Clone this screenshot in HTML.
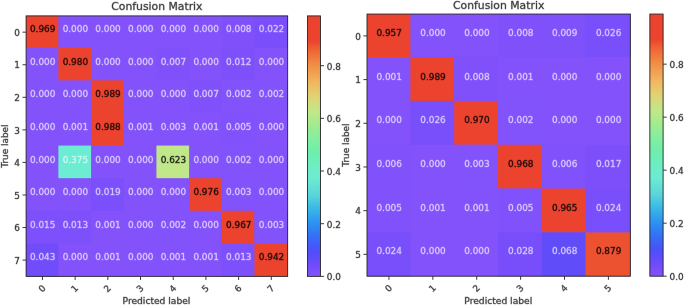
<!DOCTYPE html>
<html><head><meta charset="utf-8"><title>Confusion Matrix</title>
<style>
html,body{margin:0;padding:0;background:#fff;}
body{width:685px;height:306px;overflow:hidden;}
text{stroke-width:0.85px;stroke-opacity:0.36;paint-order:stroke;stroke-linejoin:round;}
text.w{fill:#fff;fill-opacity:0.6;stroke:#fff;stroke-opacity:0.26;}
text.k{fill:#000;fill-opacity:0.8;stroke:#000;stroke-opacity:0.36;}
svg{display:block;font-family:"DejaVu Sans","Liberation Sans",sans-serif;}
</style></head><body>
<svg width="685" height="306" viewBox="0 0 685 306">
<rect width="685" height="306" fill="#ffffff"/>
<rect x="26.10" y="15.90" width="261.56" height="260.47" fill="#8352fb"/>
<rect x="26.10" y="15.90" width="32.29" height="31.82" fill="#ec432e"/>
<rect x="221.79" y="15.90" width="32.68" height="31.82" fill="#8051fb"/>
<rect x="254.47" y="15.90" width="33.19" height="31.82" fill="#7a4efb"/>
<rect x="58.39" y="47.72" width="32.68" height="32.61" fill="#ec432e"/>
<rect x="156.43" y="47.72" width="32.68" height="32.61" fill="#8051fb"/>
<rect x="221.79" y="47.72" width="32.68" height="32.61" fill="#7e50fb"/>
<rect x="91.07" y="80.33" width="32.68" height="33.21" fill="#ec432e"/>
<rect x="189.11" y="80.33" width="32.68" height="32.61" fill="#8051fb"/>
<rect x="221.79" y="80.33" width="33.28" height="32.61" fill="#8252fb"/>
<rect x="254.47" y="80.33" width="33.19" height="32.61" fill="#8252fb"/>
<rect x="91.07" y="112.94" width="32.68" height="32.62" fill="#ec432e"/>
<rect x="156.43" y="112.94" width="32.68" height="32.62" fill="#8252fb"/>
<rect x="221.79" y="112.94" width="32.68" height="32.62" fill="#8151fb"/>
<rect x="58.39" y="145.56" width="32.68" height="32.62" fill="#6cecd2"/>
<rect x="156.43" y="145.56" width="32.68" height="32.62" fill="#c0e88a"/>
<rect x="221.79" y="145.56" width="32.68" height="33.22" fill="#8252fb"/>
<rect x="91.07" y="178.18" width="32.68" height="32.61" fill="#7b4ffb"/>
<rect x="189.11" y="178.18" width="32.68" height="32.61" fill="#ec432e"/>
<rect x="221.79" y="178.18" width="32.68" height="32.61" fill="#8252fb"/>
<rect x="26.10" y="210.79" width="32.29" height="32.62" fill="#7d50fb"/>
<rect x="58.39" y="210.79" width="32.68" height="32.62" fill="#7e50fb"/>
<rect x="156.43" y="210.79" width="32.68" height="32.62" fill="#8252fb"/>
<rect x="221.79" y="210.79" width="32.68" height="32.62" fill="#ec432e"/>
<rect x="254.47" y="210.79" width="33.19" height="32.62" fill="#8252fb"/>
<rect x="26.10" y="243.41" width="32.29" height="32.97" fill="#714cfa"/>
<rect x="221.79" y="243.41" width="32.68" height="32.97" fill="#7e50fb"/>
<rect x="254.47" y="243.41" width="33.19" height="32.97" fill="#ec432e"/>
<rect x="26.10" y="15.90" width="261.56" height="260.47" fill="none" stroke="#262626" stroke-width="0.9"/>
<text class="k" x="42.65" y="32.28" font-size="8.9" text-anchor="middle">0.969</text>
<text class="w" x="75.34" y="32.28" font-size="8.9" text-anchor="middle">0.000</text>
<text class="w" x="108.04" y="32.28" font-size="8.9" text-anchor="middle">0.000</text>
<text class="w" x="140.73" y="32.28" font-size="8.9" text-anchor="middle">0.000</text>
<text class="w" x="173.43" y="32.28" font-size="8.9" text-anchor="middle">0.000</text>
<text class="w" x="206.12" y="32.28" font-size="8.9" text-anchor="middle">0.000</text>
<text class="w" x="238.82" y="32.28" font-size="8.9" text-anchor="middle">0.008</text>
<text class="w" x="271.51" y="32.28" font-size="8.9" text-anchor="middle">0.022</text>
<text class="w" x="42.65" y="64.84" font-size="8.9" text-anchor="middle">0.000</text>
<text class="k" x="75.34" y="64.84" font-size="8.9" text-anchor="middle">0.980</text>
<text class="w" x="108.04" y="64.84" font-size="8.9" text-anchor="middle">0.000</text>
<text class="w" x="140.73" y="64.84" font-size="8.9" text-anchor="middle">0.000</text>
<text class="w" x="173.43" y="64.84" font-size="8.9" text-anchor="middle">0.007</text>
<text class="w" x="206.12" y="64.84" font-size="8.9" text-anchor="middle">0.000</text>
<text class="w" x="238.82" y="64.84" font-size="8.9" text-anchor="middle">0.012</text>
<text class="w" x="271.51" y="64.84" font-size="8.9" text-anchor="middle">0.000</text>
<text class="w" x="42.65" y="97.40" font-size="8.9" text-anchor="middle">0.000</text>
<text class="w" x="75.34" y="97.40" font-size="8.9" text-anchor="middle">0.000</text>
<text class="k" x="108.04" y="97.40" font-size="8.9" text-anchor="middle">0.989</text>
<text class="w" x="140.73" y="97.40" font-size="8.9" text-anchor="middle">0.000</text>
<text class="w" x="173.43" y="97.40" font-size="8.9" text-anchor="middle">0.000</text>
<text class="w" x="206.12" y="97.40" font-size="8.9" text-anchor="middle">0.007</text>
<text class="w" x="238.82" y="97.40" font-size="8.9" text-anchor="middle">0.002</text>
<text class="w" x="271.51" y="97.40" font-size="8.9" text-anchor="middle">0.002</text>
<text class="w" x="42.65" y="129.96" font-size="8.9" text-anchor="middle">0.000</text>
<text class="w" x="75.34" y="129.96" font-size="8.9" text-anchor="middle">0.001</text>
<text class="k" x="108.04" y="129.96" font-size="8.9" text-anchor="middle">0.988</text>
<text class="w" x="140.73" y="129.96" font-size="8.9" text-anchor="middle">0.001</text>
<text class="w" x="173.43" y="129.96" font-size="8.9" text-anchor="middle">0.003</text>
<text class="w" x="206.12" y="129.96" font-size="8.9" text-anchor="middle">0.001</text>
<text class="w" x="238.82" y="129.96" font-size="8.9" text-anchor="middle">0.005</text>
<text class="w" x="271.51" y="129.96" font-size="8.9" text-anchor="middle">0.000</text>
<text class="w" x="42.65" y="162.51" font-size="8.9" text-anchor="middle">0.000</text>
<text class="w" x="75.34" y="162.51" font-size="8.9" text-anchor="middle">0.375</text>
<text class="w" x="108.04" y="162.51" font-size="8.9" text-anchor="middle">0.000</text>
<text class="w" x="140.73" y="162.51" font-size="8.9" text-anchor="middle">0.000</text>
<text class="k" x="173.43" y="162.51" font-size="8.9" text-anchor="middle">0.623</text>
<text class="w" x="206.12" y="162.51" font-size="8.9" text-anchor="middle">0.000</text>
<text class="w" x="238.82" y="162.51" font-size="8.9" text-anchor="middle">0.002</text>
<text class="w" x="271.51" y="162.51" font-size="8.9" text-anchor="middle">0.000</text>
<text class="w" x="42.65" y="195.07" font-size="8.9" text-anchor="middle">0.000</text>
<text class="w" x="75.34" y="195.07" font-size="8.9" text-anchor="middle">0.000</text>
<text class="w" x="108.04" y="195.07" font-size="8.9" text-anchor="middle">0.019</text>
<text class="w" x="140.73" y="195.07" font-size="8.9" text-anchor="middle">0.000</text>
<text class="w" x="173.43" y="195.07" font-size="8.9" text-anchor="middle">0.000</text>
<text class="k" x="206.12" y="195.07" font-size="8.9" text-anchor="middle">0.976</text>
<text class="w" x="238.82" y="195.07" font-size="8.9" text-anchor="middle">0.003</text>
<text class="w" x="271.51" y="195.07" font-size="8.9" text-anchor="middle">0.000</text>
<text class="w" x="42.65" y="227.63" font-size="8.9" text-anchor="middle">0.015</text>
<text class="w" x="75.34" y="227.63" font-size="8.9" text-anchor="middle">0.013</text>
<text class="w" x="108.04" y="227.63" font-size="8.9" text-anchor="middle">0.001</text>
<text class="w" x="140.73" y="227.63" font-size="8.9" text-anchor="middle">0.000</text>
<text class="w" x="173.43" y="227.63" font-size="8.9" text-anchor="middle">0.002</text>
<text class="w" x="206.12" y="227.63" font-size="8.9" text-anchor="middle">0.000</text>
<text class="k" x="238.82" y="227.63" font-size="8.9" text-anchor="middle">0.967</text>
<text class="w" x="271.51" y="227.63" font-size="8.9" text-anchor="middle">0.003</text>
<text class="w" x="42.65" y="260.19" font-size="8.9" text-anchor="middle">0.043</text>
<text class="w" x="75.34" y="260.19" font-size="8.9" text-anchor="middle">0.000</text>
<text class="w" x="108.04" y="260.19" font-size="8.9" text-anchor="middle">0.001</text>
<text class="w" x="140.73" y="260.19" font-size="8.9" text-anchor="middle">0.000</text>
<text class="w" x="173.43" y="260.19" font-size="8.9" text-anchor="middle">0.001</text>
<text class="w" x="206.12" y="260.19" font-size="8.9" text-anchor="middle">0.001</text>
<text class="w" x="238.82" y="260.19" font-size="8.9" text-anchor="middle">0.013</text>
<text class="k" x="271.51" y="260.19" font-size="8.9" text-anchor="middle">0.942</text>
<line x1="22.50" x2="26.10" y1="32.18" y2="32.18" stroke="#262626" stroke-width="0.9"/>
<text x="19.90" y="35.88" font-size="8.9" text-anchor="end" fill="#383838" stroke="#383838">0</text>
<line x1="42.45" x2="42.45" y1="276.37" y2="279.97" stroke="#262626" stroke-width="0.9"/>
<text transform="translate(41.85,288.37) rotate(-45)" x="0" y="3.25" font-size="8.9" text-anchor="middle" fill="#383838" stroke="#383838">0</text>
<line x1="22.50" x2="26.10" y1="64.74" y2="64.74" stroke="#262626" stroke-width="0.9"/>
<text x="19.90" y="68.44" font-size="8.9" text-anchor="end" fill="#383838" stroke="#383838">1</text>
<line x1="75.14" x2="75.14" y1="276.37" y2="279.97" stroke="#262626" stroke-width="0.9"/>
<text transform="translate(74.54,288.37) rotate(-45)" x="0" y="3.25" font-size="8.9" text-anchor="middle" fill="#383838" stroke="#383838">1</text>
<line x1="22.50" x2="26.10" y1="97.30" y2="97.30" stroke="#262626" stroke-width="0.9"/>
<text x="19.90" y="101.00" font-size="8.9" text-anchor="end" fill="#383838" stroke="#383838">2</text>
<line x1="107.84" x2="107.84" y1="276.37" y2="279.97" stroke="#262626" stroke-width="0.9"/>
<text transform="translate(107.24,288.37) rotate(-45)" x="0" y="3.25" font-size="8.9" text-anchor="middle" fill="#383838" stroke="#383838">2</text>
<line x1="22.50" x2="26.10" y1="129.86" y2="129.86" stroke="#262626" stroke-width="0.9"/>
<text x="19.90" y="133.55" font-size="8.9" text-anchor="end" fill="#383838" stroke="#383838">3</text>
<line x1="140.53" x2="140.53" y1="276.37" y2="279.97" stroke="#262626" stroke-width="0.9"/>
<text transform="translate(139.93,288.37) rotate(-45)" x="0" y="3.25" font-size="8.9" text-anchor="middle" fill="#383838" stroke="#383838">3</text>
<line x1="22.50" x2="26.10" y1="162.41" y2="162.41" stroke="#262626" stroke-width="0.9"/>
<text x="19.90" y="166.11" font-size="8.9" text-anchor="end" fill="#383838" stroke="#383838">4</text>
<line x1="173.23" x2="173.23" y1="276.37" y2="279.97" stroke="#262626" stroke-width="0.9"/>
<text transform="translate(172.63,288.37) rotate(-45)" x="0" y="3.25" font-size="8.9" text-anchor="middle" fill="#383838" stroke="#383838">4</text>
<line x1="22.50" x2="26.10" y1="194.97" y2="194.97" stroke="#262626" stroke-width="0.9"/>
<text x="19.90" y="198.67" font-size="8.9" text-anchor="end" fill="#383838" stroke="#383838">5</text>
<line x1="205.92" x2="205.92" y1="276.37" y2="279.97" stroke="#262626" stroke-width="0.9"/>
<text transform="translate(205.32,288.37) rotate(-45)" x="0" y="3.25" font-size="8.9" text-anchor="middle" fill="#383838" stroke="#383838">5</text>
<line x1="22.50" x2="26.10" y1="227.53" y2="227.53" stroke="#262626" stroke-width="0.9"/>
<text x="19.90" y="231.23" font-size="8.9" text-anchor="end" fill="#383838" stroke="#383838">6</text>
<line x1="238.62" x2="238.62" y1="276.37" y2="279.97" stroke="#262626" stroke-width="0.9"/>
<text transform="translate(238.02,288.37) rotate(-45)" x="0" y="3.25" font-size="8.9" text-anchor="middle" fill="#383838" stroke="#383838">6</text>
<line x1="22.50" x2="26.10" y1="260.09" y2="260.09" stroke="#262626" stroke-width="0.9"/>
<text x="19.90" y="263.79" font-size="8.9" text-anchor="end" fill="#383838" stroke="#383838">7</text>
<line x1="271.31" x2="271.31" y1="276.37" y2="279.97" stroke="#262626" stroke-width="0.9"/>
<text transform="translate(270.71,288.37) rotate(-45)" x="0" y="3.25" font-size="8.9" text-anchor="middle" fill="#383838" stroke="#383838">7</text>
<text x="156.88" y="10.30" font-size="10.82" text-anchor="middle" fill="#383838" stroke="#383838">Confusion Matrix</text>
<text x="156.48" y="304.47" font-size="9.15" text-anchor="middle" fill="#383838" stroke="#383838">Predicted label</text>
<text transform="translate(7.80,146.13) rotate(-90)" font-size="8.9" text-anchor="middle" fill="#383838" stroke="#383838">True label</text>
<defs><linearGradient id="g1" x1="0" y1="0" x2="0" y2="1"><stop offset="0.0000" stop-color="#ec432e"/><stop offset="0.0100" stop-color="#ec432e"/><stop offset="0.0200" stop-color="#ec432e"/><stop offset="0.0300" stop-color="#ec432e"/><stop offset="0.0400" stop-color="#ec432e"/><stop offset="0.0500" stop-color="#ec432e"/><stop offset="0.0600" stop-color="#ec432e"/><stop offset="0.0700" stop-color="#ec432e"/><stop offset="0.0800" stop-color="#ec432e"/><stop offset="0.0900" stop-color="#ec432e"/><stop offset="0.1000" stop-color="#ec462e"/><stop offset="0.1100" stop-color="#ec5130"/><stop offset="0.1200" stop-color="#ee5b32"/><stop offset="0.1300" stop-color="#ef6235"/><stop offset="0.1400" stop-color="#f06a38"/><stop offset="0.1500" stop-color="#f0713b"/><stop offset="0.1600" stop-color="#f0793e"/><stop offset="0.1700" stop-color="#f08141"/><stop offset="0.1800" stop-color="#f08844"/><stop offset="0.1900" stop-color="#f08f47"/><stop offset="0.2000" stop-color="#f0954b"/><stop offset="0.2100" stop-color="#f09b4e"/><stop offset="0.2200" stop-color="#f1a152"/><stop offset="0.2300" stop-color="#f1a656"/><stop offset="0.2400" stop-color="#f1ac5a"/><stop offset="0.2500" stop-color="#f2b25e"/><stop offset="0.2600" stop-color="#f0b861"/><stop offset="0.2700" stop-color="#edbd65"/><stop offset="0.2800" stop-color="#eac369"/><stop offset="0.2900" stop-color="#e6c96d"/><stop offset="0.3000" stop-color="#e3ce71"/><stop offset="0.3100" stop-color="#dfd374"/><stop offset="0.3200" stop-color="#dad778"/><stop offset="0.3300" stop-color="#d5da7c"/><stop offset="0.3400" stop-color="#d0de7f"/><stop offset="0.3500" stop-color="#cae183"/><stop offset="0.3600" stop-color="#c5e586"/><stop offset="0.3700" stop-color="#c0e88a"/><stop offset="0.3800" stop-color="#bae98a"/><stop offset="0.3900" stop-color="#b4e98b"/><stop offset="0.4000" stop-color="#aeea8b"/><stop offset="0.4100" stop-color="#a8eb8c"/><stop offset="0.4200" stop-color="#a2eb8e"/><stop offset="0.4300" stop-color="#9cec92"/><stop offset="0.4400" stop-color="#96ec96"/><stop offset="0.4500" stop-color="#91ed99"/><stop offset="0.4600" stop-color="#8bee9d"/><stop offset="0.4700" stop-color="#86eea1"/><stop offset="0.4800" stop-color="#81eea3"/><stop offset="0.4900" stop-color="#7deea5"/><stop offset="0.5000" stop-color="#78eea7"/><stop offset="0.5100" stop-color="#74eea9"/><stop offset="0.5200" stop-color="#6feeab"/><stop offset="0.5300" stop-color="#6eeeaf"/><stop offset="0.5400" stop-color="#6eeeb3"/><stop offset="0.5500" stop-color="#6eeeb8"/><stop offset="0.5600" stop-color="#6eeebc"/><stop offset="0.5700" stop-color="#6eeec0"/><stop offset="0.5800" stop-color="#6eeec4"/><stop offset="0.5900" stop-color="#6dedc8"/><stop offset="0.6000" stop-color="#6dedcb"/><stop offset="0.6100" stop-color="#6cecce"/><stop offset="0.6200" stop-color="#6cecd2"/><stop offset="0.6300" stop-color="#6ae9d3"/><stop offset="0.6400" stop-color="#67e6d4"/><stop offset="0.6500" stop-color="#65e2d5"/><stop offset="0.6600" stop-color="#62dfd6"/><stop offset="0.6700" stop-color="#60dcd7"/><stop offset="0.6800" stop-color="#5dd8d9"/><stop offset="0.6900" stop-color="#59d4db"/><stop offset="0.7000" stop-color="#53cedd"/><stop offset="0.7100" stop-color="#4cc8e0"/><stop offset="0.7200" stop-color="#46c3e3"/><stop offset="0.7300" stop-color="#40bde6"/><stop offset="0.7400" stop-color="#3bb7e8"/><stop offset="0.7500" stop-color="#38b0ea"/><stop offset="0.7600" stop-color="#35aaeb"/><stop offset="0.7700" stop-color="#33a3ed"/><stop offset="0.7800" stop-color="#309cef"/><stop offset="0.7900" stop-color="#2d96f0"/><stop offset="0.8000" stop-color="#2e8ff1"/><stop offset="0.8100" stop-color="#2f88f2"/><stop offset="0.8200" stop-color="#3081f3"/><stop offset="0.8300" stop-color="#317bf4"/><stop offset="0.8400" stop-color="#3274f5"/><stop offset="0.8500" stop-color="#366ef6"/><stop offset="0.8600" stop-color="#3a67f7"/><stop offset="0.8700" stop-color="#3f61f8"/><stop offset="0.8800" stop-color="#435bf8"/><stop offset="0.8900" stop-color="#4855f9"/><stop offset="0.9000" stop-color="#4c50fa"/><stop offset="0.9100" stop-color="#534efa"/><stop offset="0.9200" stop-color="#594dfa"/><stop offset="0.9300" stop-color="#604cfa"/><stop offset="0.9400" stop-color="#674bfa"/><stop offset="0.9500" stop-color="#6e4bfa"/><stop offset="0.9600" stop-color="#724cfa"/><stop offset="0.9700" stop-color="#774dfb"/><stop offset="0.9800" stop-color="#7b4ffb"/><stop offset="0.9900" stop-color="#7f50fb"/><stop offset="1.0000" stop-color="#8352fb"/></linearGradient></defs>
<rect x="307.45" y="15.90" width="12.99" height="260.47" fill="url(#g1)" stroke="#262626" stroke-width="0.9"/>
<line x1="320.44" x2="324.04" y1="276.37" y2="276.37" stroke="#262626" stroke-width="0.9"/>
<text x="326.84" y="280.22" font-size="8.9" fill="#383838" stroke="#383838">0.0</text>
<line x1="320.44" x2="324.04" y1="223.70" y2="223.70" stroke="#262626" stroke-width="0.9"/>
<text x="326.84" y="227.55" font-size="8.9" fill="#383838" stroke="#383838">0.2</text>
<line x1="320.44" x2="324.04" y1="171.02" y2="171.02" stroke="#262626" stroke-width="0.9"/>
<text x="326.84" y="174.87" font-size="8.9" fill="#383838" stroke="#383838">0.4</text>
<line x1="320.44" x2="324.04" y1="118.35" y2="118.35" stroke="#262626" stroke-width="0.9"/>
<text x="326.84" y="122.20" font-size="8.9" fill="#383838" stroke="#383838">0.6</text>
<line x1="320.44" x2="324.04" y1="65.68" y2="65.68" stroke="#262626" stroke-width="0.9"/>
<text x="326.84" y="69.52" font-size="8.9" fill="#383838" stroke="#383838">0.8</text>
<rect x="367.00" y="14.05" width="263.35" height="262.15" fill="#8352fb"/>
<rect x="367.00" y="14.05" width="43.40" height="43.05" fill="#ec432e"/>
<rect x="498.00" y="14.05" width="43.80" height="43.05" fill="#8051fb"/>
<rect x="541.80" y="14.05" width="43.80" height="43.05" fill="#7f51fb"/>
<rect x="585.60" y="14.05" width="44.75" height="43.05" fill="#794efb"/>
<rect x="410.40" y="57.10" width="43.80" height="43.83" fill="#ec432e"/>
<rect x="454.20" y="57.10" width="43.80" height="43.83" fill="#8051fb"/>
<rect x="410.40" y="100.93" width="43.80" height="43.83" fill="#794efb"/>
<rect x="454.20" y="100.93" width="43.80" height="43.83" fill="#ec432e"/>
<rect x="498.00" y="100.93" width="43.80" height="43.83" fill="#8252fb"/>
<rect x="367.00" y="144.76" width="43.40" height="44.43" fill="#8151fb"/>
<rect x="454.20" y="144.76" width="43.80" height="43.83" fill="#8252fb"/>
<rect x="498.00" y="144.76" width="43.80" height="43.83" fill="#ec432e"/>
<rect x="541.80" y="144.76" width="43.80" height="43.83" fill="#8151fb"/>
<rect x="585.60" y="144.76" width="44.75" height="43.83" fill="#7c4ffb"/>
<rect x="367.00" y="188.59" width="43.40" height="43.83" fill="#8151fb"/>
<rect x="498.00" y="188.59" width="43.80" height="43.83" fill="#8151fb"/>
<rect x="541.80" y="188.59" width="43.80" height="43.83" fill="#ec432e"/>
<rect x="585.60" y="188.59" width="44.75" height="43.83" fill="#794efb"/>
<rect x="367.00" y="232.42" width="43.40" height="43.78" fill="#794efb"/>
<rect x="498.00" y="232.42" width="43.80" height="43.78" fill="#784efb"/>
<rect x="541.80" y="232.42" width="43.80" height="43.78" fill="#614cfa"/>
<rect x="585.60" y="232.42" width="44.75" height="43.78" fill="#ec5230"/>
<rect x="367.00" y="14.05" width="263.35" height="262.15" fill="none" stroke="#262626" stroke-width="0.9"/>
<text class="k" x="389.15" y="35.95" font-size="8.9" text-anchor="middle">0.957</text>
<text class="w" x="433.04" y="35.95" font-size="8.9" text-anchor="middle">0.000</text>
<text class="w" x="476.93" y="35.95" font-size="8.9" text-anchor="middle">0.000</text>
<text class="w" x="520.82" y="35.95" font-size="8.9" text-anchor="middle">0.008</text>
<text class="w" x="564.71" y="35.95" font-size="8.9" text-anchor="middle">0.009</text>
<text class="w" x="608.60" y="35.95" font-size="8.9" text-anchor="middle">0.026</text>
<text class="w" x="389.15" y="79.64" font-size="8.9" text-anchor="middle">0.001</text>
<text class="k" x="433.04" y="79.64" font-size="8.9" text-anchor="middle">0.989</text>
<text class="w" x="476.93" y="79.64" font-size="8.9" text-anchor="middle">0.008</text>
<text class="w" x="520.82" y="79.64" font-size="8.9" text-anchor="middle">0.001</text>
<text class="w" x="564.71" y="79.64" font-size="8.9" text-anchor="middle">0.000</text>
<text class="w" x="608.60" y="79.64" font-size="8.9" text-anchor="middle">0.000</text>
<text class="w" x="389.15" y="123.33" font-size="8.9" text-anchor="middle">0.000</text>
<text class="w" x="433.04" y="123.33" font-size="8.9" text-anchor="middle">0.026</text>
<text class="k" x="476.93" y="123.33" font-size="8.9" text-anchor="middle">0.970</text>
<text class="w" x="520.82" y="123.33" font-size="8.9" text-anchor="middle">0.002</text>
<text class="w" x="564.71" y="123.33" font-size="8.9" text-anchor="middle">0.000</text>
<text class="w" x="608.60" y="123.33" font-size="8.9" text-anchor="middle">0.000</text>
<text class="w" x="389.15" y="167.02" font-size="8.9" text-anchor="middle">0.006</text>
<text class="w" x="433.04" y="167.02" font-size="8.9" text-anchor="middle">0.000</text>
<text class="w" x="476.93" y="167.02" font-size="8.9" text-anchor="middle">0.003</text>
<text class="k" x="520.82" y="167.02" font-size="8.9" text-anchor="middle">0.968</text>
<text class="w" x="564.71" y="167.02" font-size="8.9" text-anchor="middle">0.006</text>
<text class="w" x="608.60" y="167.02" font-size="8.9" text-anchor="middle">0.017</text>
<text class="w" x="389.15" y="210.71" font-size="8.9" text-anchor="middle">0.005</text>
<text class="w" x="433.04" y="210.71" font-size="8.9" text-anchor="middle">0.001</text>
<text class="w" x="476.93" y="210.71" font-size="8.9" text-anchor="middle">0.001</text>
<text class="w" x="520.82" y="210.71" font-size="8.9" text-anchor="middle">0.005</text>
<text class="k" x="564.71" y="210.71" font-size="8.9" text-anchor="middle">0.965</text>
<text class="w" x="608.60" y="210.71" font-size="8.9" text-anchor="middle">0.024</text>
<text class="w" x="389.15" y="254.40" font-size="8.9" text-anchor="middle">0.024</text>
<text class="w" x="433.04" y="254.40" font-size="8.9" text-anchor="middle">0.000</text>
<text class="w" x="476.93" y="254.40" font-size="8.9" text-anchor="middle">0.000</text>
<text class="w" x="520.82" y="254.40" font-size="8.9" text-anchor="middle">0.028</text>
<text class="w" x="564.71" y="254.40" font-size="8.9" text-anchor="middle">0.068</text>
<text class="k" x="608.60" y="254.40" font-size="8.9" text-anchor="middle">0.879</text>
<line x1="363.40" x2="367.00" y1="35.90" y2="35.90" stroke="#262626" stroke-width="0.9"/>
<text x="360.80" y="39.59" font-size="8.9" text-anchor="end" fill="#383838" stroke="#383838">0</text>
<line x1="388.95" x2="388.95" y1="276.20" y2="279.80" stroke="#262626" stroke-width="0.9"/>
<text transform="translate(388.35,288.20) rotate(-45)" x="0" y="3.25" font-size="8.9" text-anchor="middle" fill="#383838" stroke="#383838">0</text>
<line x1="363.40" x2="367.00" y1="79.59" y2="79.59" stroke="#262626" stroke-width="0.9"/>
<text x="360.80" y="83.29" font-size="8.9" text-anchor="end" fill="#383838" stroke="#383838">1</text>
<line x1="432.84" x2="432.84" y1="276.20" y2="279.80" stroke="#262626" stroke-width="0.9"/>
<text transform="translate(432.24,288.20) rotate(-45)" x="0" y="3.25" font-size="8.9" text-anchor="middle" fill="#383838" stroke="#383838">1</text>
<line x1="363.40" x2="367.00" y1="123.28" y2="123.28" stroke="#262626" stroke-width="0.9"/>
<text x="360.80" y="126.98" font-size="8.9" text-anchor="end" fill="#383838" stroke="#383838">2</text>
<line x1="476.73" x2="476.73" y1="276.20" y2="279.80" stroke="#262626" stroke-width="0.9"/>
<text transform="translate(476.13,288.20) rotate(-45)" x="0" y="3.25" font-size="8.9" text-anchor="middle" fill="#383838" stroke="#383838">2</text>
<line x1="363.40" x2="367.00" y1="166.97" y2="166.97" stroke="#262626" stroke-width="0.9"/>
<text x="360.80" y="170.67" font-size="8.9" text-anchor="end" fill="#383838" stroke="#383838">3</text>
<line x1="520.62" x2="520.62" y1="276.20" y2="279.80" stroke="#262626" stroke-width="0.9"/>
<text transform="translate(520.02,288.20) rotate(-45)" x="0" y="3.25" font-size="8.9" text-anchor="middle" fill="#383838" stroke="#383838">3</text>
<line x1="363.40" x2="367.00" y1="210.66" y2="210.66" stroke="#262626" stroke-width="0.9"/>
<text x="360.80" y="214.36" font-size="8.9" text-anchor="end" fill="#383838" stroke="#383838">4</text>
<line x1="564.51" x2="564.51" y1="276.20" y2="279.80" stroke="#262626" stroke-width="0.9"/>
<text transform="translate(563.91,288.20) rotate(-45)" x="0" y="3.25" font-size="8.9" text-anchor="middle" fill="#383838" stroke="#383838">4</text>
<line x1="363.40" x2="367.00" y1="254.35" y2="254.35" stroke="#262626" stroke-width="0.9"/>
<text x="360.80" y="258.05" font-size="8.9" text-anchor="end" fill="#383838" stroke="#383838">5</text>
<line x1="608.40" x2="608.40" y1="276.20" y2="279.80" stroke="#262626" stroke-width="0.9"/>
<text transform="translate(607.80,288.20) rotate(-45)" x="0" y="3.25" font-size="8.9" text-anchor="middle" fill="#383838" stroke="#383838">5</text>
<text x="498.68" y="8.90" font-size="10.82" text-anchor="middle" fill="#383838" stroke="#383838">Confusion Matrix</text>
<text x="498.28" y="304.30" font-size="9.15" text-anchor="middle" fill="#383838" stroke="#383838">Predicted label</text>
<text transform="translate(348.70,145.12) rotate(-90)" font-size="8.9" text-anchor="middle" fill="#383838" stroke="#383838">True label</text>
<defs><linearGradient id="g2" x1="0" y1="0" x2="0" y2="1"><stop offset="0.0000" stop-color="#ec432e"/><stop offset="0.0100" stop-color="#ec432e"/><stop offset="0.0200" stop-color="#ec432e"/><stop offset="0.0300" stop-color="#ec432e"/><stop offset="0.0400" stop-color="#ec432e"/><stop offset="0.0500" stop-color="#ec432e"/><stop offset="0.0600" stop-color="#ec432e"/><stop offset="0.0700" stop-color="#ec432e"/><stop offset="0.0800" stop-color="#ec432e"/><stop offset="0.0900" stop-color="#ec432e"/><stop offset="0.1000" stop-color="#ec462e"/><stop offset="0.1100" stop-color="#ec5130"/><stop offset="0.1200" stop-color="#ee5b32"/><stop offset="0.1300" stop-color="#ef6235"/><stop offset="0.1400" stop-color="#f06a38"/><stop offset="0.1500" stop-color="#f0713b"/><stop offset="0.1600" stop-color="#f0793e"/><stop offset="0.1700" stop-color="#f08141"/><stop offset="0.1800" stop-color="#f08844"/><stop offset="0.1900" stop-color="#f08f47"/><stop offset="0.2000" stop-color="#f0954b"/><stop offset="0.2100" stop-color="#f09b4e"/><stop offset="0.2200" stop-color="#f1a152"/><stop offset="0.2300" stop-color="#f1a656"/><stop offset="0.2400" stop-color="#f1ac5a"/><stop offset="0.2500" stop-color="#f2b25e"/><stop offset="0.2600" stop-color="#f0b861"/><stop offset="0.2700" stop-color="#edbd65"/><stop offset="0.2800" stop-color="#eac369"/><stop offset="0.2900" stop-color="#e6c96d"/><stop offset="0.3000" stop-color="#e3ce71"/><stop offset="0.3100" stop-color="#dfd374"/><stop offset="0.3200" stop-color="#dad778"/><stop offset="0.3300" stop-color="#d5da7c"/><stop offset="0.3400" stop-color="#d0de7f"/><stop offset="0.3500" stop-color="#cae183"/><stop offset="0.3600" stop-color="#c5e586"/><stop offset="0.3700" stop-color="#c0e88a"/><stop offset="0.3800" stop-color="#bae98a"/><stop offset="0.3900" stop-color="#b4e98b"/><stop offset="0.4000" stop-color="#aeea8b"/><stop offset="0.4100" stop-color="#a8eb8c"/><stop offset="0.4200" stop-color="#a2eb8e"/><stop offset="0.4300" stop-color="#9cec92"/><stop offset="0.4400" stop-color="#96ec96"/><stop offset="0.4500" stop-color="#91ed99"/><stop offset="0.4600" stop-color="#8bee9d"/><stop offset="0.4700" stop-color="#86eea1"/><stop offset="0.4800" stop-color="#81eea3"/><stop offset="0.4900" stop-color="#7deea5"/><stop offset="0.5000" stop-color="#78eea7"/><stop offset="0.5100" stop-color="#74eea9"/><stop offset="0.5200" stop-color="#6feeab"/><stop offset="0.5300" stop-color="#6eeeaf"/><stop offset="0.5400" stop-color="#6eeeb3"/><stop offset="0.5500" stop-color="#6eeeb8"/><stop offset="0.5600" stop-color="#6eeebc"/><stop offset="0.5700" stop-color="#6eeec0"/><stop offset="0.5800" stop-color="#6eeec4"/><stop offset="0.5900" stop-color="#6dedc8"/><stop offset="0.6000" stop-color="#6dedcb"/><stop offset="0.6100" stop-color="#6cecce"/><stop offset="0.6200" stop-color="#6cecd2"/><stop offset="0.6300" stop-color="#6ae9d3"/><stop offset="0.6400" stop-color="#67e6d4"/><stop offset="0.6500" stop-color="#65e2d5"/><stop offset="0.6600" stop-color="#62dfd6"/><stop offset="0.6700" stop-color="#60dcd7"/><stop offset="0.6800" stop-color="#5dd8d9"/><stop offset="0.6900" stop-color="#59d4db"/><stop offset="0.7000" stop-color="#53cedd"/><stop offset="0.7100" stop-color="#4cc8e0"/><stop offset="0.7200" stop-color="#46c3e3"/><stop offset="0.7300" stop-color="#40bde6"/><stop offset="0.7400" stop-color="#3bb7e8"/><stop offset="0.7500" stop-color="#38b0ea"/><stop offset="0.7600" stop-color="#35aaeb"/><stop offset="0.7700" stop-color="#33a3ed"/><stop offset="0.7800" stop-color="#309cef"/><stop offset="0.7900" stop-color="#2d96f0"/><stop offset="0.8000" stop-color="#2e8ff1"/><stop offset="0.8100" stop-color="#2f88f2"/><stop offset="0.8200" stop-color="#3081f3"/><stop offset="0.8300" stop-color="#317bf4"/><stop offset="0.8400" stop-color="#3274f5"/><stop offset="0.8500" stop-color="#366ef6"/><stop offset="0.8600" stop-color="#3a67f7"/><stop offset="0.8700" stop-color="#3f61f8"/><stop offset="0.8800" stop-color="#435bf8"/><stop offset="0.8900" stop-color="#4855f9"/><stop offset="0.9000" stop-color="#4c50fa"/><stop offset="0.9100" stop-color="#534efa"/><stop offset="0.9200" stop-color="#594dfa"/><stop offset="0.9300" stop-color="#604cfa"/><stop offset="0.9400" stop-color="#674bfa"/><stop offset="0.9500" stop-color="#6e4bfa"/><stop offset="0.9600" stop-color="#724cfa"/><stop offset="0.9700" stop-color="#774dfb"/><stop offset="0.9800" stop-color="#7b4ffb"/><stop offset="0.9900" stop-color="#7f50fb"/><stop offset="1.0000" stop-color="#8352fb"/></linearGradient></defs>
<rect x="649.86" y="14.05" width="13.24" height="262.15" fill="url(#g2)" stroke="#262626" stroke-width="0.9"/>
<line x1="663.10" x2="666.70" y1="276.20" y2="276.20" stroke="#262626" stroke-width="0.9"/>
<text x="669.50" y="280.05" font-size="8.9" fill="#383838" stroke="#383838">0.0</text>
<line x1="663.10" x2="666.70" y1="223.19" y2="223.19" stroke="#262626" stroke-width="0.9"/>
<text x="669.50" y="227.04" font-size="8.9" fill="#383838" stroke="#383838">0.2</text>
<line x1="663.10" x2="666.70" y1="170.17" y2="170.17" stroke="#262626" stroke-width="0.9"/>
<text x="669.50" y="174.02" font-size="8.9" fill="#383838" stroke="#383838">0.4</text>
<line x1="663.10" x2="666.70" y1="117.16" y2="117.16" stroke="#262626" stroke-width="0.9"/>
<text x="669.50" y="121.01" font-size="8.9" fill="#383838" stroke="#383838">0.6</text>
<line x1="663.10" x2="666.70" y1="64.15" y2="64.15" stroke="#262626" stroke-width="0.9"/>
<text x="669.50" y="68.00" font-size="8.9" fill="#383838" stroke="#383838">0.8</text>
</svg>
</body></html>
